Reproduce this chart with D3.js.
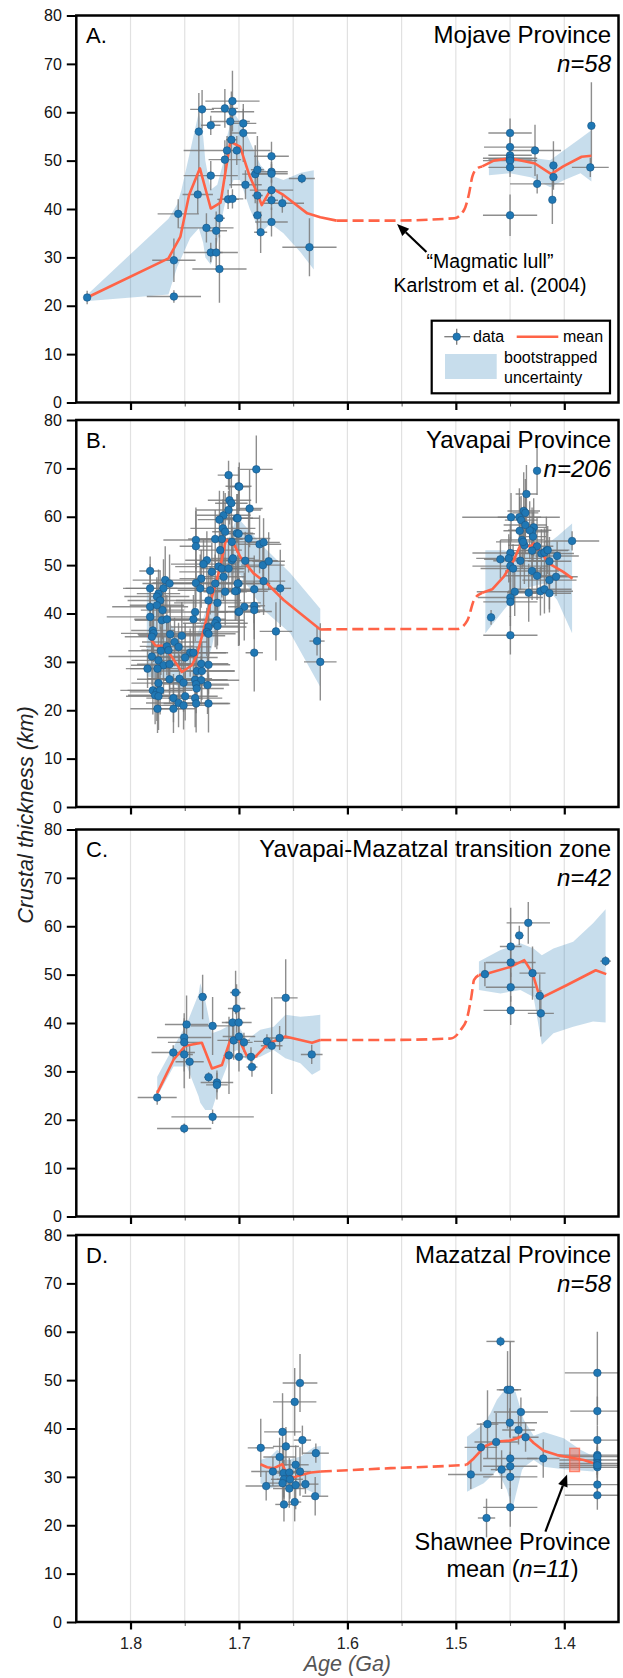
<!DOCTYPE html>
<html>
<head>
<meta charset="utf-8">
<script src="https://cdn.jsdelivr.net/npm/d3@7"></script>
<style>
  body { margin: 0; background: #fff; }
  svg text { font-family: "Liberation Sans", Arial, Helvetica, sans-serif; }
</style>
</head>
<body>
<div id="chart"></div>
<script>
// ---- data: [age (Ga), crustal thickness (km), age err, thickness err] ----
const pointsA = [
  [1.840, 21.7, 0.000, 1.4], [1.760, 29.4, 0.020, 4.5], [1.760, 21.9, 0.025, 1.3], [1.756, 39.0, 0.019, 3.0],
  [1.738, 43.0, 0.014, 4.0], [1.737, 56.0, 0.003, 8.0], [1.734, 60.6, 0.011, 4.0], [1.730, 36.1, 0.025, 3.0],
  [1.726, 57.3, 0.009, 2.0], [1.726, 46.9, 0.025, 3.0], [1.726, 31.0, 0.025, 2.0], [1.721, 35.5, 0.010, 4.0],
  [1.721, 31.0, 0.006, 3.0], [1.718, 38.1, 0.005, 4.0], [1.718, 27.6, 0.025, 7.0], [1.713, 60.8, 0.012, 4.0],
  [1.713, 50.2, 0.015, 4.0], [1.711, 52.1, 0.040, 3.0], [1.710, 42.0, 0.010, 2.0], [1.708, 58.1, 0.018, 4.0],
  [1.707, 54.3, 0.005, 10.0], [1.706, 62.3, 0.025, 6.3], [1.706, 60.1, 0.020, 2.0], [1.706, 42.1, 0.010, 2.0],
  [1.702, 52.1, 0.004, 3.0], [1.696, 57.7, 0.012, 3.0], [1.696, 55.7, 0.012, 6.0], [1.694, 45.0, 0.015, 3.0],
  [1.685, 47.2, 0.012, 6.0], [1.683, 48.1, 0.006, 7.0], [1.683, 42.8, 0.005, 4.0], [1.683, 38.7, 0.004, 3.0],
  [1.680, 35.2, 0.006, 4.3], [1.670, 50.9, 0.016, 3.0], [1.670, 47.7, 0.015, 2.0], [1.670, 47.3, 0.015, 2.0],
  [1.670, 43.9, 0.020, 2.0], [1.670, 41.8, 0.006, 2.0], [1.670, 37.3, 0.015, 3.0], [1.660, 41.2, 0.020, 2.0],
  [1.642, 46.3, 0.012, 1.0], [1.635, 32.1, 0.025, 6.0],
  [1.450, 55.7, 0.020, 3.0], [1.450, 52.8, 0.024, 2.0], [1.450, 51.1, 0.020, 2.0], [1.450, 50.3, 0.020, 2.0],
  [1.450, 50.5, 0.025, 1.0], [1.450, 50.0, 0.025, 1.0], [1.450, 48.6, 0.020, 2.0], [1.450, 38.7, 0.025, 4.3],
  [1.427, 52.1, 0.024, 5.3], [1.425, 45.2, 0.025, 2.0], [1.410, 49.0, 0.002, 5.0], [1.410, 46.6, 0.002, 2.0],
  [1.411, 41.9, 0.002, 5.0], [1.375, 57.2, 0.002, 9.0], [1.376, 48.6, 0.017, 2.0]
];
const pointsB = [
  [1.7096, 68.6, 0.010, 3.0], [1.7004, 66.3, 0.012, 4.0], [1.7087, 63.4, 0.020, 5.0], [1.7070, 62.8, 0.015, 6.0],
  [1.7142, 60.3, 0.025, 5.0], [1.7096, 61.4, 0.030, 4.0], [1.7180, 59.4, 0.020, 6.0], [1.7020, 59.7, 0.015, 5.0],
  [1.7148, 57.6, 0.030, 6.0], [1.7127, 56.9, 0.012, 8.0], [1.7019, 56.6, 0.015, 4.0], [1.7219, 55.4, 0.025, 6.0],
  [1.7158, 55.4, 0.020, 5.0], [1.7397, 55.2, 0.030, 6.0], [1.7397, 53.9, 0.015, 8.0], [1.7065, 54.8, 0.030, 5.0],
  [1.7173, 53.1, 0.020, 4.0], [1.7296, 51.0, 0.020, 6.0], [1.7327, 50.2, 0.030, 5.0], [1.7065, 51.0, 0.025, 7.0],
  [1.7188, 49.7, 0.040, 4.0], [1.7158, 49.3, 0.020, 6.0], [1.7096, 49.3, 0.015, 5.0], [1.7250, 48.6, 0.030, 6.0],
  [1.7142, 47.6, 0.020, 5.0], [1.7819, 48.8, 0.010, 3.0], [1.7680, 46.9, 0.030, 7.0], [1.7640, 46.2, 0.025, 6.0],
  [1.7348, 47.2, 0.020, 6.0], [1.7397, 46.3, 0.040, 5.0], [1.7357, 45.2, 0.030, 7.0], [1.7819, 45.2, 0.025, 5.0],
  [1.7696, 45.2, 0.035, 6.0], [1.7742, 44.1, 0.020, 5.0], [1.7757, 43.5, 0.030, 4.0], [1.7219, 46.2, 0.050, 6.0],
  [1.7265, 44.8, 0.030, 5.0], [1.7127, 44.5, 0.020, 7.0], [1.7004, 46.2, 0.015, 5.0], [1.7019, 44.7, 0.020, 6.0],
  [1.7281, 42.7, 0.030, 6.0], [1.7198, 42.2, 0.040, 5.0], [1.7727, 42.7, 0.030, 6.0], [1.7819, 41.4, 0.035, 4.0],
  [1.7757, 41.7, 0.025, 5.0], [1.7705, 40.7, 0.020, 6.0], [1.7404, 40.3, 0.030, 6.0], [1.7004, 40.3, 0.020, 7.0],
  [1.7819, 39.3, 0.040, 4.0], [1.7420, 38.8, 0.030, 5.0], [1.7711, 38.6, 0.025, 6.0], [1.7665, 38.8, 0.030, 5.0],
  [1.7204, 38.6, 0.025, 6.0], [1.7219, 38.0, 0.030, 5.0], [1.7198, 37.4, 0.020, 4.0], [1.7281, 37.2, 0.035, 6.0],
  [1.7794, 36.5, 0.020, 5.0], [1.7788, 35.9, 0.030, 6.0], [1.7803, 35.2, 0.025, 4.0], [1.7296, 36.2, 0.030, 5.0],
  [1.7281, 35.8, 0.025, 6.0], [1.7634, 35.7, 0.030, 6.0], [1.7527, 35.4, 0.040, 7.0], [1.7594, 34.1, 0.030, 5.0],
  [1.7665, 33.2, 0.025, 6.0], [1.7557, 33.1, 0.030, 5.0], [1.7803, 31.1, 0.040, 6.0], [1.7720, 32.3, 0.030, 5.0],
  [1.7650, 32.4, 0.025, 6.0], [1.7450, 31.9, 0.035, 5.0], [1.7420, 31.9, 0.030, 6.0], [1.7496, 30.9, 0.030, 7.0],
  [1.7742, 30.3, 0.025, 5.0], [1.7696, 29.3, 0.030, 6.0], [1.7751, 28.6, 0.025, 5.0], [1.7640, 29.5, 0.030, 6.0],
  [1.7843, 28.6, 0.020, 4.0], [1.7348, 29.6, 0.025, 5.0], [1.7281, 29.4, 0.020, 6.0], [1.7388, 28.1, 0.035, 5.0],
  [1.7342, 28.1, 0.030, 6.0], [1.7640, 26.4, 0.030, 5.0], [1.7742, 25.6, 0.025, 6.0], [1.7548, 26.5, 0.030, 5.0],
  [1.7511, 25.7, 0.025, 6.0], [1.7404, 26.3, 0.030, 6.0], [1.7348, 26.2, 0.035, 5.0], [1.7395, 25.4, 0.030, 6.0],
  [1.7390, 24.5, 0.025, 4.0], [1.7290, 25.2, 0.020, 6.0], [1.7794, 24.1, 0.030, 5.0], [1.7757, 23.8, 0.025, 6.0],
  [1.7727, 24.1, 0.030, 5.0], [1.7773, 23.1, 0.025, 6.0], [1.7742, 22.9, 0.030, 7.0], [1.7604, 22.5, 0.025, 5.0],
  [1.7496, 22.9, 0.030, 5.0], [1.7404, 22.5, 0.025, 6.0], [1.7557, 21.5, 0.030, 5.0], [1.7511, 21.0, 0.025, 5.0],
  [1.7395, 21.4, 0.030, 6.0], [1.7281, 21.4, 0.020, 6.0], [1.7751, 20.3, 0.025, 5.0], [1.7604, 20.3, 0.020, 5.0],
  [1.6840, 69.8, 0.015, 7.0], [1.6997, 66.2, 0.010, 5.0], [1.6902, 61.7, 0.012, 8.0], [1.7012, 59.7, 0.020, 5.0],
  [1.7003, 56.5, 0.015, 6.0], [1.6911, 55.5, 0.020, 7.0], [1.6810, 54.3, 0.020, 6.0], [1.6773, 54.7, 0.015, 5.0],
  [1.7055, 51.4, 0.020, 5.0], [1.6942, 50.9, 0.030, 6.0], [1.6779, 50.0, 0.020, 5.0], [1.6726, 50.8, 0.015, 6.0],
  [1.6773, 46.7, 0.020, 7.0], [1.7012, 46.2, 0.030, 6.0], [1.6859, 45.0, 0.025, 7.0], [1.6619, 45.2, 0.010, 8.0],
  [1.7034, 44.6, 0.030, 6.0], [1.6951, 41.4, 0.015, 7.0], [1.6859, 41.6, 0.010, 5.0], [1.6859, 40.7, 0.010, 6.0],
  [1.6997, 40.4, 0.030, 7.0], [1.6659, 36.3, 0.015, 6.0], [1.6859, 31.9, 0.008, 8.0], [1.6280, 34.3, 0.007, 3.0],
  [1.6250, 30.0, 0.015, 8.0],
  [1.4251, 69.5, 0.003, 5.0], [1.4349, 64.7, 0.010, 6.0], [1.4374, 61.2, 0.015, 8.0], [1.4359, 60.8, 0.012, 7.0],
  [1.4491, 59.9, 0.045, 5.0], [1.4414, 59.9, 0.020, 6.0], [1.4398, 59.3, 0.015, 5.0], [1.4282, 57.8, 0.012, 6.0],
  [1.4297, 56.9, 0.015, 5.0], [1.4319, 57.2, 0.020, 6.0], [1.4411, 57.1, 0.015, 7.0], [1.4359, 58.3, 0.020, 6.0],
  [1.4288, 55.9, 0.012, 5.0], [1.4389, 55.2, 0.020, 6.0], [1.4368, 54.1, 0.015, 8.0], [1.4380, 54.8, 0.025, 5.0],
  [1.4251, 53.9, 0.015, 6.0], [1.4297, 53.0, 0.020, 6.0], [1.4211, 52.4, 0.030, 5.0], [1.4165, 53.0, 0.020, 7.0],
  [1.4183, 52.6, 0.015, 5.0], [1.4153, 53.1, 0.020, 5.0], [1.4497, 52.5, 0.035, 6.0], [1.4512, 51.4, 0.030, 5.0],
  [1.4589, 51.2, 0.015, 4.0], [1.4405, 50.9, 0.025, 6.0], [1.4066, 51.9, 0.020, 3.0], [1.4137, 50.8, 0.020, 5.0],
  [1.3928, 55.0, 0.025, 2.0], [1.4497, 49.8, 0.035, 6.0], [1.4472, 49.3, 0.030, 5.0], [1.4297, 48.8, 0.025, 6.0],
  [1.4251, 47.8, 0.030, 5.0], [1.4076, 47.6, 0.020, 4.0], [1.4137, 46.9, 0.025, 6.0], [1.4457, 44.5, 0.035, 5.0],
  [1.4328, 44.3, 0.020, 6.0], [1.4220, 44.6, 0.030, 5.0], [1.4183, 45.0, 0.025, 5.0], [1.4137, 44.2, 0.020, 4.0],
  [1.4497, 43.3, 0.030, 4.0], [1.4497, 42.4, 0.025, 5.0], [1.4675, 39.2, 0.003, 1.5], [1.4497, 35.5, 0.025, 4.0]
];
const pointsC = [
  [1.7754, 24.6, 0.018, 1.5], [1.7606, 33.9, 0.020, 1.5], [1.7505, 37.0, 0.025, 4.0], [1.7505, 36.0, 0.015, 6.0],
  [1.7505, 33.5, 0.008, 7.0], [1.7505, 18.2, 0.025, 1.0], [1.7483, 39.7, 0.020, 6.0], [1.7455, 32.0, 0.013, 3.5],
  [1.7335, 45.4, 0.004, 4.6], [1.7280, 28.8, 0.004, 1.0], [1.7243, 39.4, 0.020, 6.0], [1.7243, 20.6, 0.038, 1.5],
  [1.7203, 27.7, 0.015, 2.0], [1.7203, 27.2, 0.010, 3.0], [1.7092, 33.3, 0.005, 8.0], [1.7058, 40.1, 0.010, 3.0],
  [1.7049, 36.4, 0.015, 4.0], [1.7031, 46.3, 0.005, 4.5], [1.7022, 43.0, 0.008, 5.0], [1.7003, 40.1, 0.012, 3.0],
  [1.7000, 37.2, 0.015, 5.0], [1.7000, 33.0, 0.005, 3.0], [1.6954, 36.0, 0.008, 2.0], [1.6889, 33.0, 0.006, 2.0],
  [1.6880, 30.9, 0.005, 2.0], [1.6742, 36.2, 0.012, 1.5], [1.6698, 35.3, 0.010, 10.0], [1.6625, 36.9, 0.012, 2.5],
  [1.6569, 45.2, 0.011, 8.0], [1.6329, 33.5, 0.010, 2.0],
  [1.4732, 50.1, 0.004, 2.5], [1.4494, 55.8, 0.010, 8.0], [1.4494, 52.5, 0.023, 3.0], [1.4494, 47.4, 0.023, 3.0],
  [1.4494, 42.6, 0.025, 3.0], [1.4415, 58.1, 0.004, 2.0], [1.4332, 60.7, 0.020, 4.3], [1.4293, 50.3, 0.012, 5.5],
  [1.4226, 45.6, 0.004, 4.5], [1.4216, 42.0, 0.012, 4.8], [1.3619, 52.8, 0.005, 1.0]
];
const pointsD = [
  [1.6799, 36.0, 0.012, 6.0], [1.6749, 28.1, 0.019, 3.0], [1.6687, 31.1, 0.020, 3.0], [1.6625, 34.1, 0.015, 4.0],
  [1.6598, 39.3, 0.017, 8.0], [1.6588, 30.8, 0.010, 5.0], [1.6585, 29.5, 0.012, 4.0], [1.6598, 28.7, 0.015, 5.0],
  [1.6585, 24.3, 0.008, 3.5], [1.6567, 36.3, 0.012, 4.0], [1.6536, 30.9, 0.010, 3.0], [1.6530, 29.5, 0.012, 4.0],
  [1.6536, 27.6, 0.015, 4.0], [1.6486, 45.5, 0.020, 7.0], [1.6477, 32.5, 0.012, 4.0], [1.6477, 28.3, 0.010, 5.0],
  [1.6486, 24.8, 0.006, 4.0], [1.6437, 49.4, 0.016, 6.0], [1.6437, 31.1, 0.010, 5.0], [1.6415, 37.6, 0.008, 3.0],
  [1.6387, 28.5, 0.012, 2.0], [1.6291, 34.9, 0.012, 2.0], [1.6297, 26.0, 0.012, 4.0],
  [1.4588, 58.0, 0.013, 1.0], [1.4523, 48.0, 0.010, 8.0], [1.4498, 48.0, 0.010, 10.0], [1.4400, 43.4, 0.025, 3.0],
  [1.4708, 40.9, 0.010, 7.0], [1.4502, 41.2, 0.025, 3.0], [1.4422, 39.7, 0.015, 3.0], [1.4357, 38.2, 0.012, 3.0],
  [1.4628, 37.2, 0.020, 6.0], [1.4769, 36.1, 0.015, 5.0], [1.4498, 33.8, 0.025, 4.0], [1.4498, 32.2, 0.025, 3.0],
  [1.4578, 31.5, 0.010, 4.0], [1.4498, 30.0, 0.025, 4.0], [1.4862, 30.5, 0.021, 3.0], [1.4194, 33.8, 0.015, 4.0],
  [1.4498, 23.7, 0.025, 4.0], [1.4717, 21.5, 0.008, 4.0],
  [1.3695, 51.5, 0.030, 8.5], [1.3695, 43.6, 0.025, 3.0], [1.3695, 37.6, 0.025, 3.0], [1.3695, 34.5, 0.035, 3.0],
  [1.3695, 33.5, 0.035, 3.0], [1.3695, 34.2, 0.035, 2.0], [1.3695, 32.8, 0.035, 3.0], [1.3695, 32.0, 0.035, 3.0],
  [1.3695, 32.4, 0.035, 2.0], [1.3695, 28.4, 0.030, 3.0], [1.3695, 26.2, 0.030, 3.0]
];

// ---- mean curves [age, km]; solid segments and dashed bridge ----
const meanA1 = [[1.840,21.7],[1.765,29.8],[1.754,34.3],[1.746,42.9],[1.736,48.4],[1.726,40.1],[1.717,41.3],[1.708,53.9],[1.699,52.9],[1.690,46.7],[1.683,43.2],[1.679,40.8],[1.670,44.3],[1.659,42.9],[1.637,39.1],[1.625,38.3],[1.610,37.6]];
const bridgeA = [[1.610,37.6],[1.560,37.6],[1.5015,38.1],[1.4924,39.8],[1.4878,43.2],[1.4848,46.7],[1.4802,48.4],[1.4756,48.8]];
const meanA2 = [[1.4756,48.8],[1.465,50.0],[1.450,50.5],[1.427,49.4],[1.412,47.2],[1.401,48.8],[1.384,50.8],[1.375,51.0]];

const meanB1 = [[1.784,35.5],[1.777,33.4],[1.770,33.3],[1.763,31.4],[1.7526,27.9],[1.7434,29.3],[1.7388,31.4],[1.7326,36.6],[1.7249,43.4],[1.7172,49.7],[1.712,55.2],[1.708,54.8],[1.705,54.5],[1.6988,51.7],[1.6865,48.3],[1.6742,46.2],[1.6588,42.8],[1.6434,40.0],[1.625,36.7]];
const bridgeB = [[1.625,36.7],[1.560,36.8],[1.4985,36.8],[1.4893,38.6],[1.4832,42.8],[1.4756,44.3]];
const meanB2 = [[1.4756,44.3],[1.4665,45.0],[1.4558,47.6],[1.4466,51.0],[1.442,53.4],[1.439,54.6],[1.4314,53.8],[1.428,54.5],[1.4223,52.8],[1.4131,50.2],[1.4009,48.6],[1.3924,47.2]];

const meanC1 = [[1.7754,25.5],[1.7665,29.6],[1.7603,32.4],[1.7495,35.3],[1.7342,35.9],[1.7249,30.6],[1.7157,31.3],[1.708,36.5],[1.7012,37.2],[1.6932,33.4],[1.685,33.0],[1.6742,35.5],[1.665,36.5],[1.6572,37.2],[1.6326,35.9],[1.625,36.5]];
const bridgeC = [[1.625,36.5],[1.560,36.5],[1.5046,36.8],[1.4954,38.6],[1.4893,41.3],[1.4857,45.4],[1.4832,48.9],[1.4787,49.9]];
const meanC2 = [[1.4787,49.9],[1.4732,50.1],[1.4497,51.6],[1.4369,53.0],[1.4293,50.3],[1.4223,45.1],[1.3979,47.8],[1.371,50.9],[1.3613,50.1]];

const meanD1 = [[1.6802,32.6],[1.674,32.0],[1.6678,31.8],[1.660,32.6],[1.6554,30.4],[1.6492,29.9],[1.643,30.4],[1.6337,30.9],[1.6245,31.1]];
const bridgeD = [[1.6245,31.1],[1.560,31.8],[1.505,32.3],[1.490,32.5]];
const meanD2 = [[1.490,32.5],[1.4835,33.8],[1.4728,36.4],[1.462,37.3],[1.4497,37.5],[1.4435,38.0],[1.4359,38.7],[1.4282,37.0],[1.419,35.4],[1.4066,34.5],[1.3944,34.0],[1.382,33.5],[1.3728,32.8]];

// ---- bootstrapped uncertainty [age, low, high] ----
const bandA1 = [[1.839,21.0,22.5],[1.765,22.3,38.0],[1.757,28.0,41.0],[1.753,30.0,44.0],[1.745,34.0,52.0],[1.737,36.0,60.0],[1.733,33.0,55.0],[1.731,30.0,50.0],[1.726,28.5,44.0],[1.720,33.0,45.0],[1.714,40.0,50.0],[1.711,43.0,55.0],[1.705,46.0,60.0],[1.699,46.0,58.0],[1.696,44.0,57.0],[1.690,40.0,54.0],[1.686,38.0,52.0],[1.680,35.0,49.0],[1.671,37.0,47.0],[1.659,35.0,46.0],[1.643,31.0,47.5],[1.631,27.5,48.0]];
const bandA2 = [[1.4695,47.0,50.5],[1.450,47.4,50.8],[1.430,46.5,50.6],[1.413,44.5,50.1],[1.400,46.0,52.2],[1.385,47.4,54.6],[1.375,45.7,56.3]];
const bandB1 = [[1.785,27.0,45.5],[1.7727,26.5,40.5],[1.7604,25.5,37.0],[1.7511,24.1,33.0],[1.742,24.1,33.5],[1.7327,27.6,39.3],[1.725,33.1,44.1],[1.7173,41.4,49.6],[1.7111,46.9,54.5],[1.7018,49.0,60.0],[1.6773,40.7,53.8],[1.6526,35.9,48.3],[1.625,24.8,41.0]];
const bandB2 = [[1.4728,35.9,53.1],[1.4558,40.7,53.1],[1.440,45.0,52.0],[1.419,46.2,53.8],[1.4066,42.8,55.9],[1.3928,35.9,58.6]];
const bandC1 = [[1.7754,24.8,28.9],[1.7603,31.0,35.1],[1.748,31.0,39.9],[1.7372,24.8,46.0],[1.7357,23.5,48.2],[1.7311,22.0,44.7],[1.7249,22.0,37.9],[1.7172,27.5,38.5],[1.7111,31.0,39.2],[1.708,33.7,39.5],[1.7018,34.4,39.9],[1.6926,32.4,36.5],[1.6803,33.0,38.6],[1.668,34.4,39.2],[1.6572,32.7,41.7],[1.6434,31.7,41.3],[1.6326,29.3,41.5],[1.625,30.3,41.7]];
const bandC2 = [[1.4787,46.8,52.7],[1.4588,46.1,55.1],[1.4405,46.8,56.5],[1.4283,45.4,55.4],[1.4207,35.5,54.0],[1.41,37.9,55.4],[1.3918,39.2,56.8],[1.3735,40.3,60.6],[1.3619,40.1,63.5]];
const bandD1 = [[1.6802,28.7,33.5],[1.6709,27.6,34.2],[1.6647,28.0,35.6],[1.6554,28.3,33.5],[1.643,28.0,34.2],[1.6307,26.6,36.2],[1.6245,25.9,36.4]];
const bandD2 = [[1.4897,26.9,38.3],[1.4743,28.7,41.0],[1.4682,30.0,43.1],[1.462,31.4,46.0],[1.4528,27.3,48.6],[1.448,23.2,48.0],[1.445,26.0,47.6],[1.439,31.4,43.0],[1.4374,32.0,41.8],[1.4282,33.5,38.5],[1.419,32.1,39.3],[1.4005,31.6,38.0],[1.3851,31.3,35.6],[1.3728,31.1,34.2]];

// Shawnee Province mean box [age from, age to, km low, km high]
const shawnee = [1.395, 1.386, 31.1, 35.9];

const panelLabels = ["A.", "B.", "C.", "D."];
const panelTitles = ["Mojave Province", "Yavapai Province", "Yavapai-Mazatzal transition zone", "Mazatzal Province"];
const panelN = ["58", "206", "42", "58"];
const majorTicks = [1.8, 1.7, 1.6, 1.5, 1.4];
const minorTicks = [1.75, 1.65, 1.55, 1.45];
const gridAges = [1.8, 1.75, 1.7, 1.65, 1.6, 1.55, 1.5, 1.45, 1.4];
const yTicks = [0, 10, 20, 30, 40, 50, 60, 70, 80];

// ---- layout ----
const W = 623, H = 1678;
const left = 76.3, right = 618.5;
const panelTops = [15.5, 420, 829.5, 1235], panelH = 387;
const blue = "#1f77b4", red = "#ff6347", errGrey = "#7a7a7a";

const svg = d3.select("#chart").append("svg")
    .attr("width", W)
    .attr("height", H);

const x = d3.scaleLinear().domain([1.85, 1.35]).range([left, right]);

const panels = [
  {pts: pointsA, bands: [bandA1, bandA2], solid: [meanA1, meanA2], bridge: bridgeA},
  {pts: pointsB, bands: [bandB1, bandB2], solid: [meanB1, meanB2], bridge: bridgeB},
  {pts: pointsC, bands: [bandC1, bandC2], solid: [meanC1, meanC2], bridge: bridgeC},
  {pts: pointsD, bands: [bandD1, bandD2], solid: [meanD1, meanD2], bridge: bridgeD}
];

panels.forEach(function(p, i) {
  let top = panelTops[i];
  let y = d3.scaleLinear().domain([0, 80]).range([top + panelH, top]);
  let g = svg.append("g");

  g.append("clipPath").attr("id", "clip" + i)
    .append("rect")
    .attr("x", left).attr("y", top)
    .attr("width", right - left).attr("height", panelH);

  let plot = g.append("g").attr("clip-path", `url(#clip${i})`);

  // light vertical grid
  plot.selectAll("line.grid").data(gridAges).enter()
    .append("line")
    .attr("x1", d => x(d)).attr("x2", d => x(d))
    .attr("y1", top).attr("y2", top + panelH)
    .attr("stroke", "#e1e1e1")
    .attr("stroke-width", 1.2);

  // bootstrapped band
  let area = d3.area()
    .x(d => x(d[0]))
    .y0(d => y(d[1]))
    .y1(d => y(d[2]));
  p.bands.forEach(function(b) {
    plot.append("path")
      .datum(b)
      .attr("d", area)
      .attr("fill", blue)
      .attr("fill-opacity", 0.25);
  });

  // error bars
  let eb = plot.append("g")
    .attr("stroke", errGrey)
    .attr("stroke-width", 1.4)
    .attr("stroke-opacity", 0.85);
  eb.selectAll("line.h").data(p.pts.filter(d => d[2] > 0)).enter()
    .append("line")
    .attr("x1", d => x(d[0] + d[2])).attr("x2", d => x(d[0] - d[2]))
    .attr("y1", d => y(d[1])).attr("y2", d => y(d[1]));
  eb.selectAll("line.v").data(p.pts).enter()
    .append("line")
    .attr("x1", d => x(d[0])).attr("x2", d => x(d[0]))
    .attr("y1", d => y(d[1] - d[3])).attr("y2", d => y(d[1] + d[3]));

  // mean curve: straight segments, smooth dashed bridge
  let line = d3.line()
    .x(d => x(d[0]))
    .y(d => y(d[1]));
  let smooth = d3.line()
    .x(d => x(d[0]))
    .y(d => y(d[1]))
    .curve(d3.curveMonotoneX);
  p.solid.forEach(function(s) {
    plot.append("path")
      .datum(s)
      .attr("d", line)
      .attr("fill", "none")
      .attr("stroke", red)
      .attr("stroke-width", 2.6)
      .attr("stroke-linejoin", "round");
  });
  plot.append("path")
    .datum(p.bridge)
    .attr("d", smooth)
    .attr("fill", "none")
    .attr("stroke", red)
    .attr("stroke-width", 2.6)
    .attr("stroke-dasharray", "11,5");

  // data markers
  plot.selectAll("circle").data(p.pts).enter()
    .append("circle")
    .attr("cx", d => x(d[0]))
    .attr("cy", d => y(d[1]))
    .attr("r", 3.8)
    .attr("fill", blue)
    .attr("stroke", "#1a5585")
    .attr("stroke-width", 0.6);

  if (i === 3) {
    plot.append("rect")
      .attr("x", x(shawnee[0])).attr("width", x(shawnee[1]) - x(shawnee[0]))
      .attr("y", y(shawnee[3])).attr("height", y(shawnee[2]) - y(shawnee[3]))
      .attr("fill", red).attr("fill-opacity", 0.45)
      .attr("stroke", red).attr("stroke-opacity", 0.75).attr("stroke-width", 1.4);
  }

  // axes
  let yAxis = g.append("g")
    .attr("transform", `translate(${left},0)`)
    .call(d3.axisLeft(y).tickValues(yTicks).tickSize(9.5).tickPadding(5));
  yAxis.select(".domain").remove();
  yAxis.selectAll("line").attr("stroke", "#000").attr("stroke-width", 2);
  yAxis.selectAll("text").attr("font-size", 16).attr("fill", "#111")
    .attr("font-family", "Liberation Sans, Arial, sans-serif");

  let xAxis = g.append("g")
    .attr("transform", `translate(0,${top + panelH})`)
    .call(d3.axisBottom(x).tickValues(majorTicks).tickSize(7.5).tickPadding(8)
      .tickFormat(i === 3 ? d3.format(".1f") : () => ""));
  xAxis.select(".domain").remove();
  xAxis.selectAll("line").attr("stroke", "#000").attr("stroke-width", 2.2);
  xAxis.selectAll("text").attr("font-size", 16).attr("fill", "#222")
    .attr("font-family", "Liberation Sans, Arial, sans-serif");

  let xMinor = g.append("g")
    .attr("transform", `translate(0,${top + panelH})`)
    .call(d3.axisBottom(x).tickValues(minorTicks).tickSize(4).tickFormat(() => ""));
  xMinor.select(".domain").remove();
  xMinor.selectAll("line").attr("stroke", "#555").attr("stroke-width", 1);

  // frame
  g.append("rect")
    .attr("x", left).attr("y", top)
    .attr("width", right - left).attr("height", panelH)
    .attr("fill", "none")
    .attr("stroke", "#000")
    .attr("stroke-width", 2.5);

  // labels
  g.append("text")
    .attr("x", 86).attr("y", top + 27.5)
    .attr("font-size", 22)
    .text(panelLabels[i]);
  g.append("text")
    .attr("x", 611).attr("y", top + 27.5)
    .attr("text-anchor", "end")
    .attr("font-size", 24)
    .text(panelTitles[i]);
  g.append("text")
    .attr("x", 611).attr("y", top + 56.5)
    .attr("text-anchor", "end")
    .attr("font-size", 24)
    .attr("font-style", "italic")
    .text("n=" + panelN[i]);

  // annotations
  if (i === 0) {
    arrow(g, x(1.5271), y(31.1), x(1.5542), y(36.9));
    g.append("text")
      .attr("x", 490).attr("y", top + 252.5)
      .attr("text-anchor", "middle").attr("font-size", 19.5)
      .text("\u201CMagmatic lull\u201D");
    g.append("text")
      .attr("x", 490).attr("y", top + 276)
      .attr("text-anchor", "middle").attr("font-size", 19.5)
      .text("Karlstrom et al. (2004)");
    drawLegend(g, top);
  }
  if (i === 3) {
    arrow(g, x(1.4174), y(18.7), x(1.3974), y(30.5));
    g.append("text")
      .attr("x", 512.5).attr("y", top + 315)
      .attr("text-anchor", "middle").attr("font-size", 23.5)
      .text("Shawnee Province");
    // "mean (n=11)" with italic n=11, laid out as separate pieces
    let parts = [["mean (", "normal"], ["n=11", "italic"], [")", "normal"]];
    let nodes = parts.map(function(pt) {
      return g.append("text")
        .attr("y", top + 341.5)
        .attr("font-size", 23.5)
        .attr("font-style", pt[1])
        .text(pt[0]);
    });
    let widths = nodes.map(n => n.node().getComputedTextLength());
    let cx = 512.5 - d3.sum(widths) / 2;
    nodes.forEach(function(n, k) {
      n.attr("x", cx);
      cx += widths[k];
    });
  }
});

function arrow(g, x1, y1, x2, y2) {
  let ang = Math.atan2(y2 - y1, x2 - x1);
  let hl = 12, hw = 5;
  let bx = x2 - hl * Math.cos(ang), by = y2 - hl * Math.sin(ang);
  g.append("line")
    .attr("x1", x1).attr("y1", y1).attr("x2", bx).attr("y2", by)
    .attr("stroke", "#000").attr("stroke-width", 2.2);
  let px = -Math.sin(ang) * hw, py = Math.cos(ang) * hw;
  g.append("path")
    .attr("d", `M${x2},${y2}L${bx + px},${by + py}L${bx - px},${by - py}Z`)
    .attr("fill", "#000");
}

function drawLegend(g, top) {
  let lg = g.append("g");
  lg.append("rect")
    .attr("x", 431.7).attr("y", top + 305.2)
    .attr("width", 178.3).attr("height", 72.6)
    .attr("fill", "#fff").attr("stroke", "#000").attr("stroke-width", 2.2);
  let cy = top + 321.2;
  lg.append("line").attr("x1", 444.3).attr("x2", 470).attr("y1", cy).attr("y2", cy)
    .attr("stroke", errGrey).attr("stroke-width", 1.3);
  lg.append("line").attr("x1", 456.7).attr("x2", 456.7).attr("y1", cy - 8).attr("y2", cy + 8)
    .attr("stroke", errGrey).attr("stroke-width", 1.3);
  lg.append("circle").attr("cx", 456.7).attr("cy", cy).attr("r", 3.8)
    .attr("fill", blue).attr("stroke", "#1a5585").attr("stroke-width", 0.6);
  lg.append("text").attr("x", 473).attr("y", cy + 5.5).attr("font-size", 16).text("data");
  lg.append("line").attr("x1", 516.7).attr("x2", 558.3).attr("y1", cy).attr("y2", cy)
    .attr("stroke", red).attr("stroke-width", 2.6);
  lg.append("text").attr("x", 563).attr("y", cy + 5.5).attr("font-size", 16).text("mean");
  lg.append("rect").attr("x", 445).attr("y", top + 338.5).attr("width", 51.7).attr("height", 25)
    .attr("fill", blue).attr("fill-opacity", 0.25);
  lg.append("text").attr("x", 504).attr("y", top + 347.8).attr("font-size", 16).text("bootstrapped");
  lg.append("text").attr("x", 504).attr("y", top + 367.2).attr("font-size", 16).text("uncertainty");
}

// axis titles
svg.append("text")
  .attr("transform", "translate(33,815) rotate(-90)")
  .attr("text-anchor", "middle")
  .attr("font-size", 22)
  .attr("font-style", "italic")
  .attr("fill", "#222")
  .text("Crustal thickness (km)");

svg.append("text")
  .attr("x", (left + right) / 2).attr("y", 1671)
  .attr("text-anchor", "middle")
  .attr("font-size", 21.5)
  .attr("font-style", "italic")
  .attr("fill", "#555")
  .text("Age (Ga)");
</script>
</body>
</html>
